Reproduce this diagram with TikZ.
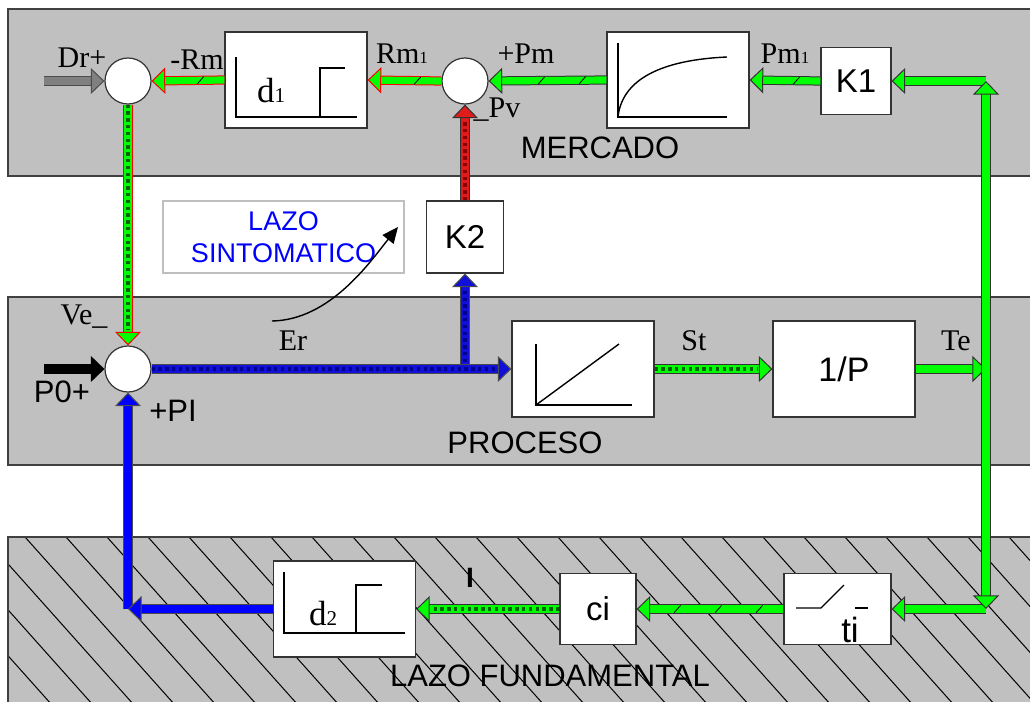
\documentclass[tikz,border=0pt]{standalone}
\usepackage{fontspec}
\setmainfont{Liberation Serif}
\setsansfont{Liberation Sans}
\usepackage{tikz}
\usetikzlibrary{arrows.meta,positioning,calc,decorations.markings}
\definecolor{bandc}{HTML}{C0C0C0}
\definecolor{limec}{HTML}{00FF00}
\definecolor{dgreenc}{HTML}{006400}
\definecolor{redc}{HTML}{E01B1B}
\definecolor{dredc}{HTML}{8B0000}
\definecolor{bluec}{HTML}{0000FF}
\definecolor{nbluec}{HTML}{1010D8}
\definecolor{dbluec}{HTML}{000090}
\definecolor{grayc}{HTML}{808080}
\newcommand{\smdig}[1]{{\fontsize{8.5}{9}\selectfont #1}}
\newcommand{\bigdig}[1]{{\fontsize{10.5}{11}\selectfont #1}}

\begin{document}
\begin{tikzpicture}[x=0.5pt, y=-0.5pt,
  band/.style={draw=black!75, fill=bandc, line width=0.6pt},
  box/.style={draw=black!80, fill=white, line width=0.6pt, inner sep=0pt},
  graph/.style={box, minimum width=71pt, minimum height=48pt},
  kbox/.style={box, font=\sffamily\fontsize{16.5}{18}\selectfont},
  sumc/.style={circle, draw=black!80, fill=white, line width=0.6pt, minimum size=23pt, inner sep=0pt},
  gl/.style={black, line width=0.7pt},
  lbl/.style={font=\fontsize{15}{17}\selectfont, inner sep=0pt},
  slbl/.style={font=\sffamily\fontsize{15.5}{17}\selectfont, inner sep=0pt},
  fat/.style 2 args={line width=3.6pt, draw=#2,
    -{Triangle[width=13pt, length=6.8pt, line width=0.5pt, color=#1, fill=#2]},
    preaction={draw=#1, line width=4.6pt, arrows=-, shorten >=4pt}},
  dots/.style={postaction={draw=#1, line width=1.8pt, arrows=-,
    dash pattern=on 1.7pt off 1.7pt, shorten >=7.5pt}},
  slashes/.style={postaction={decorate, arrows=-, decoration={markings,
    mark=between positions 12pt and -14pt step 20.5pt with
      {\draw[black, line width=0.4pt, arrows=-] (-1.6pt,-1.8pt) -- (1.6pt,1.8pt);}}}},
  gre/.style={fat={black!80}{limec}},
  grered/.style={fat={red}{limec}},
  redarr/.style={fat={black!80}{redc}},
  nbluearr/.style={fat={black!70}{nbluec}},
  bluearr/.style={fat={black!70}{bluec}},
  grayarr/.style={fat={black!70}{grayc}},
  blkarr/.style={fat={black}{black}}
]
  \fill[white] (0,0) rectangle (1030,702);
  \useasboundingbox (0,0) rectangle (1030,702);

  \draw[band] (8,9) rectangle (1040,176);
  \draw[band] (8,297) rectangle (1040,465);
  \fill[bandc] (8,537) rectangle (1040,710);
  \begin{scope}
    \clip (8,537) rectangle (1040,710);
    \foreach \i in {-4,...,25}
      \draw[line width=0.5pt] (25+41*\i,537) -- ++(200,224);
  \end{scope}
  \draw[draw=black!75, line width=0.6pt] (8,710) -- (8,537) -- (1040,537);

  \node[sumc] (S1) at (128,81) {};
  \node[sumc] (S2) at (465,81) {};
  \node[sumc] (S3) at (128,369) {};
  \node[graph] (d1) at (296,80) {};
  \node[graph] (sat) at (678,80) {};
  \node[kbox, minimum width=35pt, minimum height=33.5pt] (K1) at (856,81) {K1};
  \node[kbox, minimum width=38.5pt, minimum height=36pt] (K2) at (465,237) {K2};
  \node[box, draw=black!25, line width=1pt, minimum width=120.5pt, minimum height=36pt,
    align=center, text=bluec, font=\sffamily\fontsize{13.5}{16}\selectfont] (lazo) at (283.5,237)
    {LAZO\\SINTOMATICO};
  \node[graph] (ramp) at (583,369) {};
  \node[graph] (pinv) at (844,369) {};
  \node[graph] (d2) at (344.5,609) {};
  \node[kbox, minimum width=38pt, minimum height=35.5pt] (ci) at (598,609) {ci};
  \node[box, minimum width=53.5pt, minimum height=35.5pt] (ti) at (837.5,609) {};

  \draw[gl] (236,57) -- (236,117) -- (357,117);
  \draw[gl] (320,117) -- (320,68) -- (345,68);
  \draw[gl] (618,43) -- (618,117) -- (727,117);
  \draw[gl] (618,117) .. controls (622,80) and (660,60) .. (727,57);
  \draw[gl] (536,344) -- (536,405) -- (632,405);
  \draw[gl] (536,405) -- (619,344);
  \draw[gl] (284,572) -- (284,633) -- (405,633);
  \draw[gl] (356,633) -- (356,585) -- (382,585);
  \draw[gl] (796,608) -- (821,608) -- (844,585);
  \draw[gl] (855,608) -- (868,608);

  \node[font=\sffamily\fontsize{17}{18}\selectfont] (pinvl) at (844,369) {1/P};
  \node[lbl, font=\fontsize{17.5}{19}\selectfont] (d1l) at (271,91) {d\bigdig{1}};
  \node[lbl, font=\fontsize{17.5}{19}\selectfont] (d2l) at (323,614) {d\bigdig{2}};
  \node[slbl, font=\sffamily\fontsize{17.5}{19}\selectfont] (til) at (850,630) {ti};

  \coordinate (dr) at (44,81);
  \coordinate (p0) at (44,369);
  \coordinate (br) at (465,369);
  \coordinate (cl) at (128,609);
  \coordinate (jt) at (986,369);
  \coordinate (ctop) at (986,81);
  \coordinate (cbot) at (986,609);
  \coordinate (ls0) at (272,321);
  \coordinate (ls1) at (398,227);

  \draw[grayarr] (dr) -- (S1.west);
  \draw[grered, slashes] (d1.west) -- (S1.east);
  \draw[grered, slashes] (S2.west) -- (d1.east);
  \draw[gre, slashes] (sat.west) -- (S2.east);
  \draw[gre, slashes] (K1.west) -- (sat.east);
  \draw[gre] (ctop) -- (K1.east);
  \draw[redarr, dots=dredc] (K2.north) -- (S2.south);
  \draw[grered, dots=dgreenc] (S1.south) -- (S3.north);
  \draw[blkarr] (p0) -- (S3.west);
  \draw[nbluearr, dots=dbluec] (br) -- (K2.south);
  \draw[nbluearr, dots=dbluec] (S3.east) -- (ramp.west);
  \draw[gre, dots=dgreenc] (ramp.east) -- (pinv.west);
  \draw[gre] (pinv.east) -- (jt);
  \draw[gre] (jt) -- (ctop);
  \draw[gre] (cbot) -- (ti.east);
  \draw[gre] (jt) -- (cbot);
  \draw[gre, slashes] (ti.west) -- (ci.east);
  \draw[gre, dots=dgreenc] (ci.west) -- (d2.east);
  \draw[bluearr] (cl) -- (S3.south);
  \draw[bluearr] (d2.west) -- (cl);
  \draw[-{Triangle[width=7pt, length=8pt]}, line width=0.7pt]
    (ls0) .. controls (330,320) and (370,262) .. (ls1);

  \node[lbl] (drl) at (82,58) {Dr+};
  \node[lbl] (rml) at (197,60) {-Rm};
  \node[lbl] (rm1l) at (402,54) {Rm\smdig{1}};
  \node[lbl] (pml) at (526,54) {+Pm};
  \node[lbl] (pvl) at (497,110) {\_Pv};
  \node[lbl] (pm1l) at (785,54) {Pm\smdig{1}};
  \node[slbl] (merc) at (600,148) {MERCADO};
  \node[lbl] (vel) at (84,317) {Ve\_};
  \node[lbl] (erl) at (293,341) {Er};
  \node[slbl] (p0l) at (62,392) {P0+};
  \node[slbl] (pil) at (173,411) {+PI};
  \node[slbl] (proc) at (525,443) {PROCESO};
  \node[lbl] (stl) at (694,341) {St};
  \node[lbl] (tel) at (956,341) {Te};
  \node[slbl, font=\sffamily\bfseries\fontsize{14}{15}\selectfont] (il) at (470,578) {I};
  \node[slbl] (fund) at (550,676) {LAZO FUNDAMENTAL};
\end{tikzpicture}
\end{document}
